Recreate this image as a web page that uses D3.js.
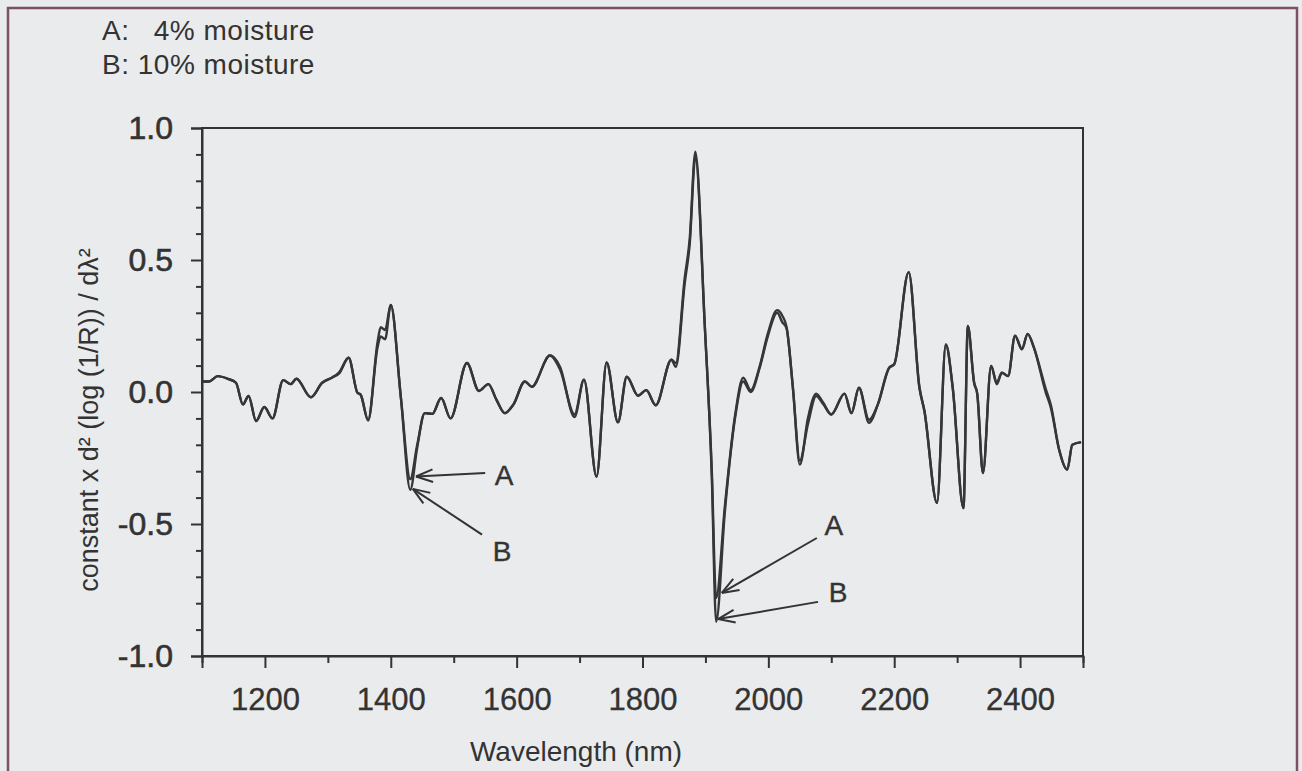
<!DOCTYPE html>
<html>
<head>
<meta charset="utf-8">
<script src="https://cdn.jsdelivr.net/npm/d3@7"></script>
<style>
  html, body { margin: 0; padding: 0; background: #e9ebec; }
  svg { display: block; }
</style>
</head>
<body>
<svg id="chart" width="1302" height="771"></svg>
<script>
// ---- data ----
const wavelengths = [1100,1111,1125,1141,1154,1165,1174,1186,1199,1212,1229,1241,1250,1273,1291,1307,1318,1333,1347,1352,1364,1379,1384,1391,1400,1416,1431,1442,1454,1466,1480,1495,1521,1540,1555,1568,1581,1595,1613,1624,1653,1669,1692,1707,1727,1743,1761,1775,1793,1806,1821,1846,1853,1867,1875,1884,1899,1910,1917,1931,1947,1960,1972,1986,1999,2014,2022,2029,2039,2050,2063,2076,2087,2100,2121,2132,2144,2160,2174,2192,2200,2223,2240,2248,2268,2282,2293,2310,2317,2327,2332,2341,2354,2363,2371,2381,2392,2403,2412,2422,2441,2449,2462,2475,2483,2497];
const seriesA = [0.04,0.04,0.06,0.05,0.035,-0.047,-0.015,-0.11,-0.057,-0.10,0.045,0.03,0.05,-0.02,0.035,0.055,0.075,0.13,-0.003,-0.01,-0.107,0.19,0.245,0.235,0.33,-0.02,-0.33,-0.20,-0.08,-0.083,-0.023,-0.10,0.11,0.004,0.03,-0.03,-0.08,-0.047,0.04,0.02,0.138,0.095,-0.095,0.047,-0.32,0.112,-0.115,0.058,-0.014,0.007,-0.05,0.122,0.095,0.41,0.56,0.89,0.25,-0.29,-0.78,-0.43,-0.09,0.054,0.007,0.095,0.22,0.31,0.29,0.245,0.016,-0.275,-0.098,-0.006,-0.04,-0.085,-0.006,-0.08,0.016,-0.117,-0.047,0.092,0.105,0.454,0.016,-0.072,-0.42,0.18,0.016,-0.44,0.25,0.035,-0.008,-0.307,0.099,0.029,0.073,0.06,0.213,0.162,0.22,0.168,-0.003,-0.06,-0.218,-0.294,-0.20,-0.19];
const seriesB = [0.04,0.04,0.06,0.05,0.035,-0.047,-0.015,-0.11,-0.057,-0.10,0.045,0.03,0.05,-0.02,0.035,0.055,0.07,0.13,-0.003,-0.01,-0.107,0.17,0.21,0.20,0.33,-0.02,-0.37,-0.21,-0.08,-0.083,-0.023,-0.10,0.11,0.004,0.03,-0.03,-0.08,-0.047,0.04,0.02,0.138,0.085,-0.085,0.047,-0.32,0.112,-0.115,0.058,-0.014,0.007,-0.05,0.122,0.11,0.43,0.58,0.91,0.25,-0.31,-0.87,-0.45,-0.10,0.04,0.0,0.09,0.21,0.30,0.265,0.24,0.016,-0.26,-0.12,-0.015,-0.045,-0.085,-0.006,-0.08,0.016,-0.105,-0.047,0.092,0.105,0.454,0.02,-0.072,-0.42,0.18,0.016,-0.44,0.25,0.035,-0.008,-0.307,0.099,0.035,0.073,0.06,0.213,0.162,0.22,0.168,0.01,-0.05,-0.218,-0.294,-0.20,-0.19];
const xTicks = [1200,1400,1600,1800,2000,2200,2400];
const xMinorTicks = [1100,1300,1500,1700,1900,2100,2300,2500];
const yTicks = [-1.0,-0.5,0.0,0.5,1.0];
const yTickLabels = ["-1.0","-0.5","0.0","0.5","1.0"];
const yMinorTicks = [-0.9,-0.8,-0.7,-0.6,-0.4,-0.3,-0.2,-0.1,0.1,0.2,0.3,0.4,0.6,0.7,0.8,0.9];
const legendKeys = ["A:","B:"];
const legendTexts = ["4% moisture","10% moisture"];
const annotationLabels = ["A","B","A","B"];
const annotationTips = [[1440,-0.32],[1435,-0.367],[1926,-0.761],[1920,-0.86]];
const annotationTails = [[1550,-0.307],[1545,-0.54],[2077,-0.553],[2079,-0.795]];
const annotationTextAt = [[1580,-0.315],[1577,-0.606],[2104,-0.504],[2111,-0.758]];
const xTitle = "Wavelength (nm)";
const yTitle = "constant x d\u00B2 (log (1/R)) / d\u03BB\u00B2";

// ---- layout ----
const svg = d3.select("#chart");
const pL = 202, pR = 1083, pT = 128, pB = 656;
const ink = "#333";
const font = "'Liberation Sans', Arial, Helvetica, sans-serif";
const x = d3.scaleLinear().domain([1100, 2500]).range([pL, pR]);
const y = d3.scaleLinear().domain([-1, 1]).range([pB, pT]);

// outer border
svg.append("rect").attr("x", 8).attr("y", 8).attr("width", 1289).attr("height", 820)
  .attr("fill", "none").attr("stroke", "#7d5062").attr("stroke-width", 2.5);

// legend: "B: 10% moisture" as one run, "4% moisture" right-aligned to it
const lg = svg.append("g").attr("fill", ink)
  .style("font-family", font).style("font-size", "28px").style("letter-spacing", "0.5px");
const bRow = lg.append("text").attr("x", 102).attr("y", 74).text(legendKeys[1] + " " + legendTexts[1]);
const rowEnd = 102 + bRow.node().getComputedTextLength();
lg.append("text").attr("x", 102).attr("y", 40).text(legendKeys[0]);
lg.append("text").attr("x", rowEnd).attr("y", 40).attr("text-anchor", "end").text(legendTexts[0]);

// frame
svg.append("rect").attr("x", pL).attr("y", pT).attr("width", pR - pL).attr("height", pB - pT)
  .attr("fill", "none").attr("stroke", ink).attr("stroke-width", 2);

// y axis
const yAxis = d3.axisLeft(y).tickValues(yTicks).tickFormat((d, i) => yTickLabels[i]).tickSize(11).tickPadding(18);
const yg = svg.append("g").attr("transform", `translate(${pL},0)`).call(yAxis);
yg.select(".domain").attr("stroke", ink).attr("stroke-width", 2);
yg.selectAll(".tick line").attr("stroke", ink).attr("stroke-width", 2);
yg.selectAll(".tick text").attr("fill", ink).attr("stroke", ink).attr("stroke-width", 0.6)
  .style("font-family", font).style("font-size", "32px");
const ygm = svg.append("g").attr("transform", `translate(${pL},0)`)
  .call(d3.axisLeft(y).tickValues(yMinorTicks).tickFormat("").tickSize(6));
ygm.select(".domain").remove();
ygm.selectAll(".tick line").attr("stroke", ink).attr("stroke-width", 2);

// x axis
const xAxis = d3.axisBottom(x).tickValues(xTicks).tickFormat(d3.format("d")).tickSize(12).tickPadding(20);
const xg = svg.append("g").attr("transform", `translate(0,${pB})`).call(xAxis);
xg.select(".domain").attr("stroke", ink).attr("stroke-width", 2);
xg.selectAll(".tick line").attr("stroke", ink).attr("stroke-width", 2);
xg.selectAll(".tick text").attr("fill", ink).attr("stroke", ink).attr("stroke-width", 0.3)
  .style("font-family", font).style("font-size", "31px");
const xgm = svg.append("g").attr("transform", `translate(0,${pB})`)
  .call(d3.axisBottom(x).tickValues(xMinorTicks).tickFormat("").tickSize(7));
xgm.select(".domain").remove();
xgm.selectAll(".tick line").attr("stroke", ink).attr("stroke-width", 2);

// axis titles
svg.append("text").attr("x", 576).attr("y", 761).attr("text-anchor", "middle").attr("fill", ink)
  .style("font-family", font).style("font-size", "28px").text(xTitle);
svg.append("text").attr("transform", "translate(98,420) rotate(-90)").attr("text-anchor", "middle").attr("fill", ink)
  .style("font-family", font).style("font-size", "27px").text(yTitle);

// spectra
const line = d3.line().x((d, i) => x(wavelengths[i])).y(d => y(d)).curve(d3.curveMonotoneX);
[seriesA, seriesB].forEach(s => {
  svg.append("path").datum(s).attr("d", line).attr("fill", "none")
    .attr("stroke", "#363636").attr("stroke-width", 2.4).attr("stroke-linejoin", "round");
});

// annotations
const ag = svg.append("g").attr("stroke", ink).attr("stroke-width", 2).attr("fill", "none");
annotationLabels.forEach((lab, i) => {
  const tx = x(annotationTips[i][0]), ty = y(annotationTips[i][1]);
  const sx = x(annotationTails[i][0]), sy = y(annotationTails[i][1]);
  ag.append("line").attr("x1", sx).attr("y1", sy).attr("x2", tx).attr("y2", ty);
  const ang = Math.atan2(sy - ty, sx - tx);
  [0.36, -0.36].forEach(da => {
    ag.append("line").attr("x1", tx).attr("y1", ty)
      .attr("x2", tx + 18 * Math.cos(ang + da)).attr("y2", ty + 18 * Math.sin(ang + da));
  });
  svg.append("text").attr("x", x(annotationTextAt[i][0])).attr("y", y(annotationTextAt[i][1]))
    .attr("text-anchor", "middle").attr("dominant-baseline", "central").attr("fill", ink)
    .attr("stroke", ink).attr("stroke-width", 0.4)
    .style("font-family", font).style("font-size", "28px").text(lab);
});
</script>
</body>
</html>
